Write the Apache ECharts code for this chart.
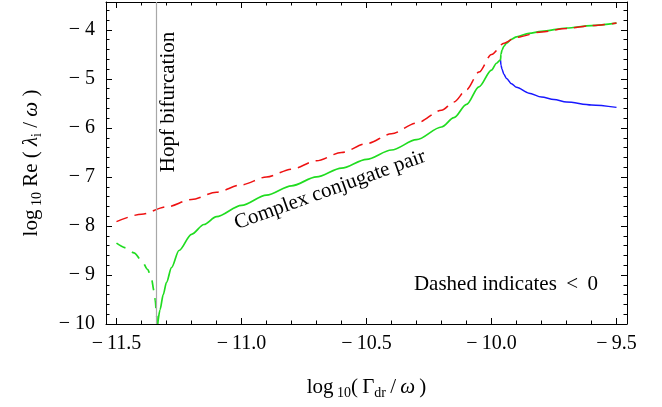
<!DOCTYPE html>
<html>
<head>
<meta charset="utf-8">
<script src="https://cdn.jsdelivr.net/npm/echarts@6/dist/echarts.min.js"></script>
<style>
html, body { margin: 0; padding: 0; background: #fff; }
#chart { width: 662px; height: 407px; }
</style>
</head>
<body>
<div id="chart"></div>
<script>
// tick labels
const xMajorTicks = [-11.5, -11.0, -10.5, -10.0, -9.5];
const yMajorTicks = [-10, -9, -8, -7, -6, -5, -4];
const xMinorTicks = [];
for (let i = 0; i <= 20; i++) xMinorTicks.push(+(-11.5 + i * 0.1).toFixed(1));
const yMinorTicks = [];
for (let i = 0; i <= 32; i++) yMinorTicks.push(+(-10 + i * 0.2).toFixed(1));

const hopfX = -11.338;

// red dashed (negative eigenvalue)
const redDashed = [
    [-11.5, -7.91], [-11.4, -7.76], [-11.3, -7.61], [-11.2, -7.46], [-11.1, -7.31],
    [-11.0, -7.16], [-10.9, -7.00], [-10.8, -6.84], [-10.7, -6.67], [-10.6, -6.50],
    [-10.5, -6.32], [-10.4, -6.12], [-10.3, -5.90], [-10.2, -5.64], [-10.15, -5.47],
    [-10.1, -5.22], [-10.05, -4.86], [-10.0, -4.50], [-9.95, -4.27], [-9.9, -4.15],
    [-9.8, -4.04], [-9.7, -3.97], [-9.6, -3.91], [-9.5, -3.86]
];

// green dashed, left of the Hopf bifurcation
const greenDashed = [
    [-11.5, -8.35], [-11.46, -8.45], [-11.43, -8.55], [-11.40, -8.70], [-11.375, -8.89],
    [-11.36, -9.08], [-11.35, -9.32], [-11.345, -9.52], [-11.34, -9.80], [-11.337, -10.0]
];

// complex conjugate pair, then the upper real branch
const greenSolid = [
    [-11.335, -10.0], [-11.326, -9.71], [-11.313, -9.40], [-11.30, -9.15], [-11.28, -8.85],
    [-11.25, -8.50], [-11.2, -8.17], [-11.15, -7.97], [-11.1, -7.81], [-11.0, -7.58],
    [-10.9, -7.37], [-10.8, -7.18], [-10.7, -7.00], [-10.6, -6.82], [-10.5, -6.64],
    [-10.4, -6.45], [-10.3, -6.24], [-10.2, -5.98], [-10.15, -5.79], [-10.1, -5.52],
    [-10.05, -5.16], [-10.0, -4.82], [-9.98, -4.68], [-9.964, -4.61],
    [-9.962, -4.50], [-9.958, -4.41], [-9.95, -4.33], [-9.94, -4.27], [-9.92, -4.19],
    [-9.9, -4.14], [-9.85, -4.07], [-9.8, -4.03], [-9.7, -3.96], [-9.6, -3.91], [-9.5, -3.86]
];

// lower real branch after the pair splits
const blueSolid = [
    [-9.964, -4.61], [-9.962, -4.72], [-9.958, -4.80], [-9.95, -4.91], [-9.94, -4.99],
    [-9.92, -5.10], [-9.9, -5.17], [-9.85, -5.29], [-9.8, -5.37], [-9.75, -5.42],
    [-9.7, -5.47], [-9.6, -5.53], [-9.5, -5.58]
];

const serif = '"Liberation Serif", "Times New Roman", serif';
const xMin = -11.542, xMax = -9.458;
const yMin = -10, yMax = -3.43;

const nameRich = {
    t: { fontFamily: serif, fontSize: 21, color: '#000' },
    i: { fontFamily: serif, fontSize: 21, fontStyle: 'italic', color: '#000' },
    s: { fontFamily: serif, fontSize: 14, color: '#000', padding: [12, 0, 0, 0] }
};

function minus(v, digits, gap) {
    return (v < 0 ? '\u2212' + gap : '') + Math.abs(v).toFixed(digits);
}

function makeAxis(kind, position, ticks, len, main) {
    return {
        type: 'value',
        position: position,
        min: kind === 'x' ? xMin : yMin,
        max: kind === 'x' ? xMax : yMax,
        axisLine: { show: main, onZero: false, lineStyle: { color: '#000', width: 1 } },
        axisTick: { show: true, inside: true, length: len, customValues: ticks, lineStyle: { color: '#000', width: 1 } },
        axisLabel: { show: false },
        splitLine: { show: false }
    };
}

const xAxes = [
    makeAxis('x', 'bottom', xMajorTicks, 6, true),
    makeAxis('x', 'bottom', xMinorTicks, 3.5, false),
    makeAxis('x', 'top', xMajorTicks, 6, true),
    makeAxis('x', 'top', xMinorTicks, 3.5, false)
];
xAxes[0].axisLabel = {
    show: true, customValues: xMajorTicks, color: '#000', fontFamily: serif, fontSize: 20, margin: 10,
    formatter: v => minus(v, 1, '\u2009')
};
xAxes[0].name = '{t|log}{s| 10}{t|(\u2009\u0393}{s|dr}{t|\u2009/\u2009}{i|\u03c9}{t|\u2009)}';
xAxes[0].nameLocation = 'middle';
xAxes[0].nameGap = 50;
xAxes[0].nameTextStyle = { rich: nameRich };

const yAxes = [
    makeAxis('y', 'left', yMajorTicks, 6, true),
    makeAxis('y', 'left', yMinorTicks, 3.5, false),
    makeAxis('y', 'right', yMajorTicks, 6, true),
    makeAxis('y', 'right', yMinorTicks, 3.5, false)
];
yAxes[0].axisLabel = {
    show: true, customValues: yMajorTicks, color: '#000', fontFamily: serif, fontSize: 20, margin: 11,
    formatter: v => minus(v, 0, ' ')
};
yAxes[0].name = '{t|log}{s| 10}{t| Re ( }{i|\u03bb}{s|i}{t| / }{i|\u03c9}{t| )}';
yAxes[0].nameLocation = 'middle';
yAxes[0].nameRotate = 90;
yAxes[0].nameGap = 62;
yAxes[0].nameTextStyle = { rich: nameRich };

const series = [
    {
        type: 'line', data: blueSolid, showSymbol: false, smooth: 0.3, smoothMonotone: 'x',
        lineStyle: { color: '#1818ff', width: 1.5 },
        markLine: {
            silent: true, symbol: 'none', label: { show: false },
            lineStyle: { color: '#a8a8a8', width: 1.2, type: 'solid' },
            data: [{ xAxis: hopfX }]
        }
    },
    {
        type: 'line', data: greenSolid, showSymbol: false, smooth: 0.3, smoothMonotone: 'x',
        lineStyle: { color: '#20dc20', width: 1.7 }
    },
    {
        type: 'line', data: greenDashed, showSymbol: false, smooth: 0.3, smoothMonotone: 'x',
        lineStyle: { color: '#20dc20', width: 1.7, type: [10, 8] }
    },
    {
        type: 'line', data: redDashed, showSymbol: false, smooth: 0.3, smoothMonotone: 'x',
        lineStyle: { color: '#ee1111', width: 1.5, type: [12, 7] }
    }
];

const chart = echarts.init(document.getElementById('chart'));
chart.setOption({
    animation: false,
    backgroundColor: '#fff',
    grid: { left: 106, right: 35, top: 2, bottom: 83 },
    xAxis: xAxes,
    yAxis: yAxes,
    series: series,
    graphic: [
        {
            type: 'text', x: 168, y: 102, rotation: Math.PI / 2,
            style: { text: 'Hopf bifurcation', font: '21px ' + serif, fill: '#000', align: 'center', verticalAlign: 'middle' }
        },
        {
            type: 'text', x: 330, y: 190, rotation: 0.345,
            style: { text: 'Complex conjugate pair', font: '21px ' + serif, fill: '#000', align: 'center', verticalAlign: 'middle' }
        },
        {
            type: 'text', x: 506, y: 284,
            style: { text: 'Dashed indicates \u2009<\u2009 0', font: '21px ' + serif, fill: '#000', align: 'center', verticalAlign: 'middle' }
        }
    ]
});
</script>
</body>
</html>
